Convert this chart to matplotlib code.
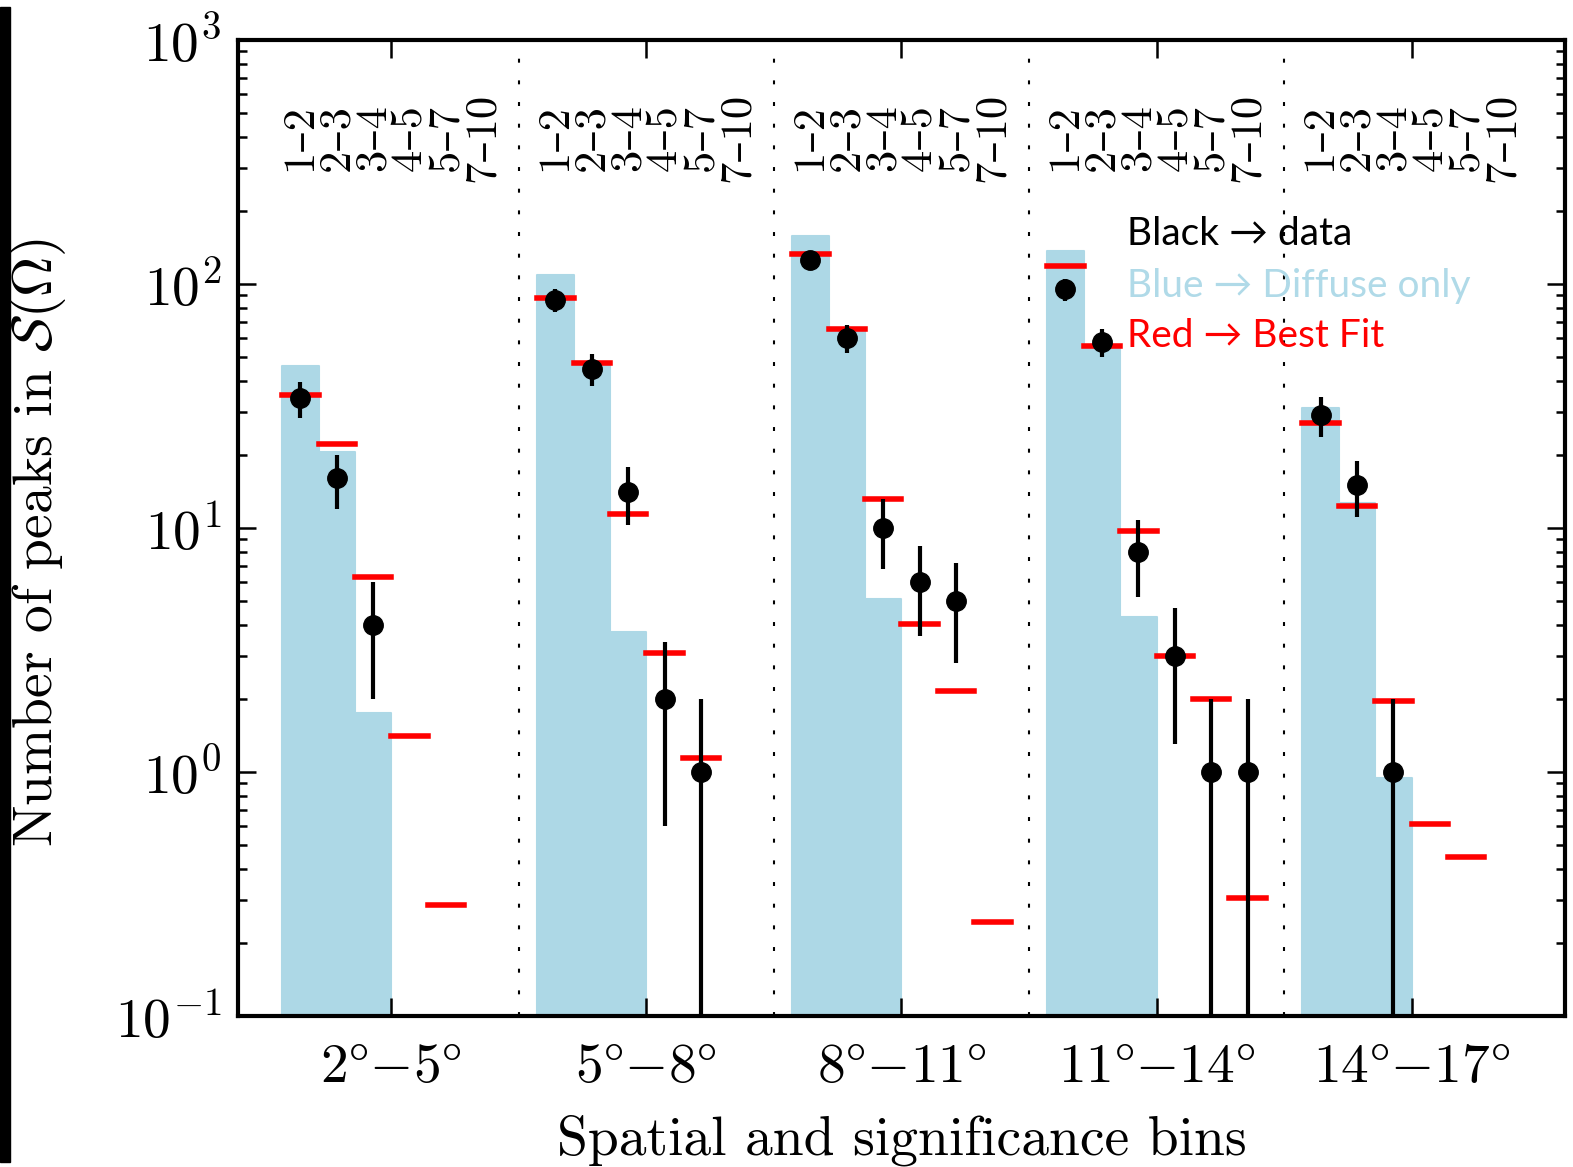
import numpy as np
import matplotlib
matplotlib.use("Agg")
import matplotlib.pyplot as plt
from matplotlib.patches import Rectangle

nan = np.nan

# spatial bins (groups) and significance bins inside each group
spatial_bins = [r"$2\degree{-}5\degree$", r"$5\degree{-}8\degree$", r"$8\degree{-}11\degree$",
                r"$11\degree{-}14\degree$", r"$14\degree{-}17\degree$"]
sig_bins = ["1\u20132", "2\u20133", "3\u20134", "4\u20135", "5\u20137", "7\u201310"]

# one entry per (spatial, significance) bin, 6 per group
data_counts = [34, 16, 4, nan, nan, nan,
               86, 45, 14, 2, 1, nan,
               125, 60, 10, 6, 5, nan,
               95, 58, 8, 3, 1, 1,
               29, 15, 1, nan, nan, nan]
data_err = [5.8, 4.0, 2.0, nan, nan, nan,
            9.3, 6.7, 3.7, 1.4, 1.0, nan,
            11.2, 7.7, 3.2, 2.4, 2.2, nan,
            9.7, 7.6, 2.8, 1.7, 1.0, 1.0,
            5.4, 3.9, 1.0, nan, nan, nan]
diffuse_only = [46, 20.5, 1.75, nan, nan, nan,
                109, 47.5, 3.75, nan, nan, nan,
                157, 66, 5.1, nan, nan, nan,
                136, 55, 4.3, nan, nan, nan,
                31, 12.7, 0.94, nan, nan, nan]
best_fit = [35, 22, 6.3, 1.4, 0.285, nan,
            87.6, 47.5, 11.4, 3.07, 1.14, nan,
            133, 65.6, 13.1, 4.04, 2.15, 0.243,
            118, 55.6, 9.7, 3.0, 2.0, 0.305,
            27, 12.3, 1.95, 0.61, 0.45, nan]

plt.rcParams["font.family"] = "serif"
plt.rcParams["font.serif"] = ["cmr10"]
plt.rcParams["mathtext.fontset"] = "cm"
plt.rcParams["axes.formatter.use_mathtext"] = True


def main():
    W, H = 1573, 1167
    fig = plt.figure(figsize=(W / 100, H / 100), dpi=100)
    ax = fig.add_axes([238 / W, 1 - 1016 / H, (1565 - 238) / W, (1016 - 40) / H])

    n_sig = len(sig_bins)
    pos = np.array([(n_sig + 1) * g + i for g in range(len(spatial_bins)) for i in range(n_sig)], float)
    counts = np.array(data_counts, float)
    err = np.array(data_err, float)
    diff = np.array(diffuse_only, float)
    fit = np.array(best_fit, float)

    ax.set_yscale("log")

    # blue: diffuse only
    m = ~np.isnan(diff)
    ax.bar(pos[m], diff[m], width=1.0, bottom=1e-3, color="lightblue", edgecolor="lightblue",
           linewidth=1.5, joinstyle="round", zorder=1)

    # red: best fit
    m = ~np.isnan(fit)
    lc = ax.hlines(fit[m], pos[m] - 0.5, pos[m] + 0.5, colors="red", linewidth=4, zorder=2)
    lc.set_capstyle("projecting")

    # black: data
    m = ~np.isnan(counts)
    ax.errorbar(pos[m], counts[m], yerr=err[m], fmt="o", color="black", ms=14,
                elinewidth=3, capsize=0, zorder=3)

    # group separators
    for g in range(1, len(spatial_bins)):
        ax.axvline((n_sig + 1) * g - 1, color="black", linewidth=1.5,
                   linestyle=(0, (1.9, 8.5)), zorder=0)

    # significance bin labels
    for g in range(len(spatial_bins)):
        for i, lab in enumerate(sig_bins):
            ax.text((n_sig + 1) * g + i, 400, lab, rotation=90, ha="center", va="center",
                    fontsize=32, family=["cmr10", "DejaVu Serif"])

    ax.set_xlim(-1.71, 34.71)
    ax.set_ylim(0.1, 1000)
    ax.set_xticks([(n_sig + 1) * g + 2.5 for g in range(len(spatial_bins))])
    ax.set_xticklabels(spatial_bins)
    ax.tick_params(which="major", direction="in", length=13, width=1.8,
                   top=True, right=True, labelsize=40, pad=12)
    ax.tick_params(axis="x", which="major", pad=20)
    ax.tick_params(which="minor", direction="in", length=6.5, width=1.8,
                   top=True, right=True)
    for s in ax.spines.values():
        s.set_linewidth(3)

    ax.set_xlabel("Spatial and significance bins", fontsize=40, labelpad=15)
    ax.set_ylabel(r"Number of peaks in $\mathcal{S}(\Omega)$", fontsize=40)
    ax.yaxis.set_label_coords(-0.128, 0.485)

    # annotation added on top of the plot
    tx = 1127 / W
    fig.text(tx, 1 - 245 / H, "Black \u2192 data", color="black", fontsize=28,
             family=["Lato", "DejaVu Sans"], va="baseline")
    fig.text(tx, 1 - 297 / H, "Blue \u2192 Diffuse only", color="#b0dae8", fontsize=28,
             family=["Lato", "DejaVu Sans"], va="baseline")
    fig.text(tx, 1 - 347 / H, "Red \u2192 Best Fit", color="red", fontsize=28,
             family=["Lato", "DejaVu Sans"], va="baseline")

    # black strip at the left edge
    fig.add_artist(Rectangle((0, 1 - 1162 / H), 9.5 / W, (1162 - 7) / H,
                             transform=fig.transFigure, color="black"))

    fig.savefig("out.png", dpi=100)


if __name__ == "__main__":
    main()
